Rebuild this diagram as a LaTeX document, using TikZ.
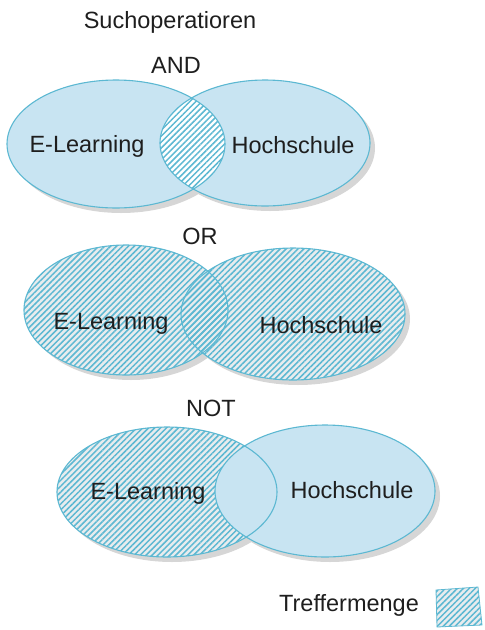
\documentclass[tikz,border=0pt]{standalone}
\usepackage{fontspec}
\setmainfont{Liberation Sans}
\usepackage{tikz}
\usetikzlibrary{positioning, patterns.meta}
\definecolor{setfill}{RGB}{200, 228, 242}
\definecolor{setline}{RGB}{92, 184, 210}
\definecolor{setshadow}{RGB}{214, 214, 214}
\definecolor{hatchbg}{RGB}{232, 236, 238}
\definecolor{labeltext}{RGB}{30, 30, 30}

\tikzset{
    setlabel/.style={text=labeltext, font=\fontsize{23.5}{27}\selectfont},
    oplabel/.style={text=labeltext, font=\fontsize{23.5}{27}\selectfont},
    setedge/.style={draw=setline, line width=1.1pt},
    setshade/.style={fill=setshadow},
    hatched/.style={pattern={Lines[angle=45, distance=4.2pt, line width=1.5pt]}, pattern color=setline},
}

\begin{document}
\begin{tikzpicture}[x=1pt, y=-1pt]
    \useasboundingbox (0,0) rectangle (485,630);

    \node[oplabel] (title) at (170,22) {Suchoperatioren};

    % AND
    \node[oplabel] (andop) at (176,65) {AND};
    \fill[setshade] (121,149) ellipse [x radius=109, y radius=64];
    \fill[setshade] (270,148) ellipse [x radius=105, y radius=63];
    \fill[setfill] (116,144) ellipse [x radius=109, y radius=64];
    \fill[setfill] (265,143) ellipse [x radius=105, y radius=63];
    \begin{scope}
        \clip (116,144) ellipse [x radius=109, y radius=64];
        \fill[white] (265,143) ellipse [x radius=105, y radius=63];
        \fill[hatched] (265,143) ellipse [x radius=105, y radius=63];
    \end{scope}
    \draw[setedge] (116,144) ellipse [x radius=109, y radius=64];
    \draw[setedge] (265,143) ellipse [x radius=105, y radius=63];
    \node[setlabel] (andleft) at (87,146) {E-Learning};
    \node[setlabel] (andright) at (293,145) {Hochschule};

    % OR
    \node[oplabel] (orop) at (200,236) {OR};
    \fill[setshade] (131,315) ellipse [x radius=102, y radius=65];
    \fill[setshade] (298,319) ellipse [x radius=112, y radius=66];
    \fill[hatchbg] (126,310) ellipse [x radius=102, y radius=65];
    \fill[hatchbg] (293,314) ellipse [x radius=112, y radius=66];
    \fill[hatched] (126,310) ellipse [x radius=102, y radius=65];
    \fill[hatched] (293,314) ellipse [x radius=112, y radius=66];
    \draw[setedge] (126,310) ellipse [x radius=102, y radius=65];
    \draw[setedge] (293,314) ellipse [x radius=112, y radius=66];
    \node[setlabel] (orleft) at (111,323) {E-Learning};
    \node[setlabel] (orright) at (321,325) {Hochschule};

    % NOT
    \node[oplabel] (notop) at (211,408) {NOT};
    \fill[setshade] (172,497) ellipse [x radius=110, y radius=65];
    \fill[setshade] (330,496) ellipse [x radius=110, y radius=66];
    \fill[hatchbg] (167,492) ellipse [x radius=110, y radius=65];
    \fill[hatched] (167,492) ellipse [x radius=110, y radius=65];
    \fill[setfill] (325,491) ellipse [x radius=110, y radius=66];
    \draw[setedge] (167,492) ellipse [x radius=110, y radius=65];
    \draw[setedge] (325,491) ellipse [x radius=110, y radius=66];
    \node[setlabel] (notleft) at (148,493) {E-Learning};
    \node[setlabel] (notright) at (352,490) {Hochschule};

    % Legende
    \node[oplabel] (legendtext) at (349,605) {Treffermenge};
    \fill[hatchbg] (436,590) -- (478,587) -- (482,625) -- (437,627) -- cycle;
    \fill[hatched] (436,590) -- (478,587) -- (482,625) -- (437,627) -- cycle;
    \draw[setline, line width=0.8pt] (436,590) -- (478,587) -- (482,625) -- (437,627) -- cycle;
\end{tikzpicture}
\end{document}
